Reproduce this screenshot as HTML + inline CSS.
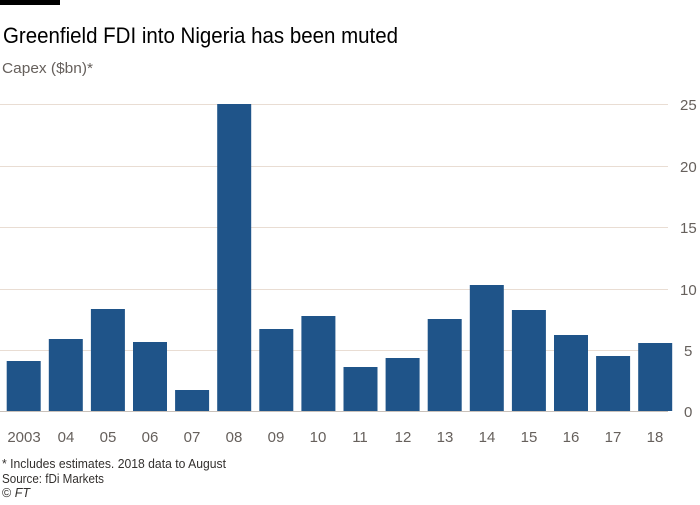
<!DOCTYPE html>
<html><head><meta charset="utf-8"><style>
body{margin:0;background:#fff;width:700px;height:500px;overflow:hidden;font-family:"Liberation Sans",sans-serif}
</style></head><body>
<svg width="700" height="500" xmlns="http://www.w3.org/2000/svg" font-family="Liberation Sans, sans-serif">
<rect x="0" y="0" width="60" height="5" fill="#000"/>
<text x="3" y="43" font-size="22" fill="#000" textLength="395" lengthAdjust="spacingAndGlyphs">Greenfield FDI into Nigeria has been muted</text>
<text x="2" y="73" font-size="15" fill="#66605c" textLength="91" lengthAdjust="spacingAndGlyphs">Capex ($bn)*</text>
<g stroke="#e9ddd3" stroke-width="1">
<line x1="0" x2="668" y1="104.5" y2="104.5"/>
<line x1="0" x2="668" y1="166.5" y2="166.5"/>
<line x1="0" x2="668" y1="227.5" y2="227.5"/>
<line x1="0" x2="668" y1="289.5" y2="289.5"/>
<line x1="0" x2="668" y1="350.5" y2="350.5"/>
</g>
<g font-size="15" fill="#66605c" text-anchor="start">
<text x="680" y="110">25</text><text x="680" y="172">20</text><text x="680" y="233">15</text><text x="680" y="295">10</text><text x="684" y="356">5</text><text x="684" y="417">0</text>
</g>
<g fill="#1f5489">
<rect x="6.7" y="361" width="34" height="50"/>
<rect x="48.8" y="339" width="34" height="72"/>
<rect x="90.9" y="309" width="34" height="102"/>
<rect x="133" y="342" width="34" height="69"/>
<rect x="175.1" y="390" width="34" height="21"/>
<rect x="217.2" y="104" width="34" height="307"/>
<rect x="259.3" y="329" width="34" height="82"/>
<rect x="301.4" y="316" width="34" height="95"/>
<rect x="343.5" y="367" width="34" height="44"/>
<rect x="385.6" y="358" width="34" height="53"/>
<rect x="427.7" y="319" width="34" height="92"/>
<rect x="469.8" y="285" width="34" height="126"/>
<rect x="511.9" y="310" width="34" height="101"/>
<rect x="554" y="335" width="34" height="76"/>
<rect x="596.1" y="356" width="34" height="55"/>
<rect x="638.2" y="343" width="34" height="68"/>
</g>
<line x1="0" x2="668" y1="411.5" y2="411.5" stroke="#c9c1ba" stroke-width="1"/>
<g font-size="15" fill="#66605c" text-anchor="middle">
<text x="24" y="442">2003</text><text x="66" y="442">04</text><text x="108" y="442">05</text><text x="150" y="442">06</text><text x="192" y="442">07</text><text x="234" y="442">08</text><text x="276" y="442">09</text><text x="318" y="442">10</text><text x="360" y="442">11</text><text x="403" y="442">12</text><text x="445" y="442">13</text><text x="487" y="442">14</text><text x="529" y="442">15</text><text x="571" y="442">16</text><text x="613" y="442">17</text><text x="655" y="442">18</text>
</g>
<g font-size="12.5" fill="#33302e">
<text x="2" y="468" textLength="224" lengthAdjust="spacingAndGlyphs">* Includes estimates. 2018 data to August</text>
<text x="2" y="483" textLength="102" lengthAdjust="spacingAndGlyphs">Source: fDi Markets</text>
<text x="2" y="497">© <tspan font-style="italic">FT</tspan></text>
</g>
</svg>
</body></html>
